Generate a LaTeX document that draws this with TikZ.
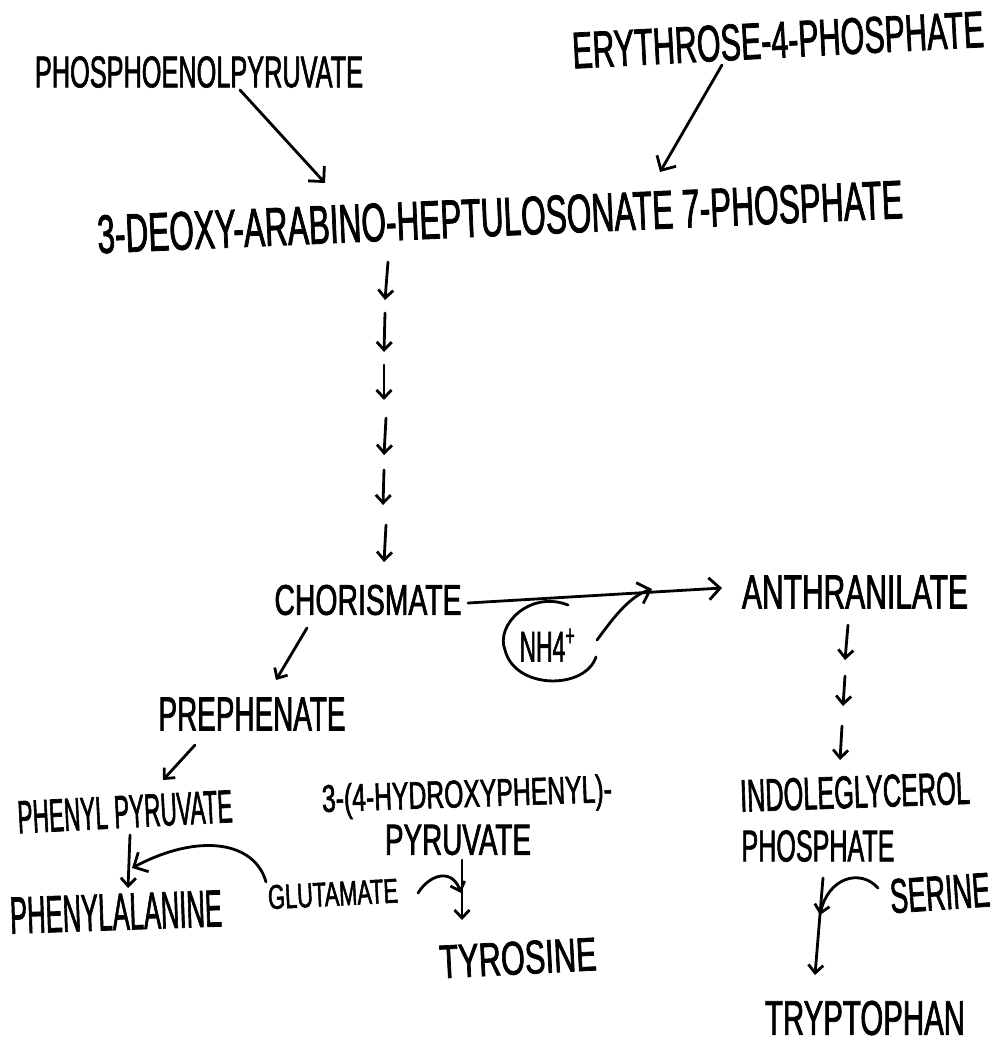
\documentclass[tikz,border=0pt]{standalone}
\usepackage{fontspec}
\setmainfont{Liberation Sans}[FakeStretch=0.65, FakeBold=1.5]
\usepackage{graphicx}
\usetikzlibrary{arrows.meta}
% lettering of a given width and cap height (in pt)
\newcommand\handtext[3]{\resizebox{#1pt}{#2pt}{#3}}
\begin{document}
\begin{tikzpicture}[x=1pt,y=-1pt,
  lettering/.style={inner sep=0pt, anchor=center},
  pen/.style={line width=2.8pt, line cap=round, line join=round},
  flow/.style={pen, -{Straight Barb[length=11pt,width=22pt]}},
  stepflow/.style={pen, -{Straight Barb[length=8pt,width=15pt]}}]

\fill[white] (0,0) rectangle (1002,1047);
\path[use as bounding box] (0,0) rectangle (1002,1047);

% compounds
\node[lettering] (pep) at (199,72) {\handtext{328}{31}{PHOSPHOENOLPYRUVATE}};
\node[lettering, rotate=3] (e4p) at (778,40) {\handtext{412}{36}{ERYTHROSE-4-PHOSPHATE}};
\node[lettering, rotate=2.5] (dahp) at (500,217) {\handtext{806}{38}{3-DEOXY-ARABINO-HEPTULOSONATE 7-PHOSPHATE}};
\node[lettering] (chor) at (368,600) {\handtext{187}{30}{CHORISMATE}};
\node[lettering] (anth) at (855,592) {\handtext{226}{33}{ANTHRANILATE}};
\node[lettering] (nh4) at (548,645) {\handtext{57}{33}{NH4\textsuperscript{+}}};
\node[lettering] (prep) at (252,714) {\handtext{187}{33}{PREPHENATE}};
\node[lettering, rotate=3] (phpy) at (125,812) {\handtext{215}{32}{PHENYL PYRUVATE}};
\node[lettering, rotate=2] (hpp1) at (467,797) {\handtext{290}{28}{3-(4-HYDROXYPHENYL)-}};
\node[lettering] (hpp2) at (458,840) {\handtext{146}{30}{PYRUVATE}};
\node[lettering, rotate=2] (pala) at (116,912) {\handtext{212}{36}{PHENYLALANINE}};
\node[lettering, rotate=3] (glu) at (333,894) {\handtext{130}{24}{GLUTAMATE}};
\node[lettering, rotate=3] (tyr) at (518,958) {\handtext{157}{33}{TYROSINE}};
\node[lettering, rotate=2] (igp1) at (855,792) {\handtext{230}{32}{INDOLEGLYCEROL}};
\node[lettering] (igp2) at (818,846) {\handtext{153}{31}{PHOSPHATE}};
\node[lettering, rotate=4] (ser) at (940,893) {\handtext{100}{34}{SERINE}};
\node[lettering] (trp) at (865,1018) {\handtext{200}{34}{TRYPTOPHAN}};

% the two precursors
\draw[flow] ([shift={(41,18)}]pep.center) -- ([shift={(-175,-34)}]dahp.center);
\draw[flow] ([shift={(-56,25)}]e4p.center) -- ([shift={(160,-45)}]dahp.center);

% six steps down to chorismate
\foreach \i/\xa/\ya/\xb/\yb in {1/388/262/385/300, 2/385/313/384/352, 3/384/365/384/400,
                                4/386/418/384/455, 5/384/470/383/505, 6/386/525/384/562} {
  \coordinate (d\i a) at (\xa,\ya);
  \coordinate (d\i b) at (\xb,\yb);
  \draw[stepflow] (d\i a) -- (d\i b);
}

% chorismate to anthranilate, with ammonium joining
\draw[flow] ([shift={(100,3)}]chor.center) -- ([shift={(-133,-4)}]anth.center);
\begin{scope}[shift={(nh4.center)}]
  \draw[pen] (20,-40) .. controls (-18,-55) and (-53,-20) .. (-43,5)
             .. controls (-33,45) and (37,45) .. (48,12);
  \coordinate (nhjoin) at (104,-56);
  \draw[flow] (49,-5) .. controls (64,-25) and (80,-48) .. (nhjoin);
\end{scope}

% tyrosine / phenylalanine branch
\draw[stepflow] ([shift={(-61,28)}]chor.center) -- ([shift={(24,-34)}]prep.center);
\draw[stepflow] ([shift={(-57,31)}]prep.center) -- ([shift={(38,-32)}]phpy.center);
\draw[stepflow] ([shift={(5,23)}]phpy.center) -- ([shift={(12,-24)}]pala.center);
\draw[flow] ([shift={(-67,-12)}]glu.center) .. controls (255,842) and (200,832) .. ([shift={(16,-44)}]pala.center);
\draw[stepflow] ([shift={(4,20)}]hpp2.center) -- ([shift={(-56,-38)}]tyr.center);
\draw[stepflow] ([shift={(85,-1)}]glu.center) .. controls (430,874) and (452,868) .. ([shift={(-57,-65)}]tyr.center);

% tryptophan branch
\foreach \i/\xa/\ya/\xb/\yb in {1/848/625/845/660, 2/845/676/843/706, 3/842/726/840/760} {
  \coordinate (a\i a) at (\xa,\ya);
  \coordinate (a\i b) at (\xb,\yb);
  \draw[stepflow] (a\i a) -- (a\i b);
}
\draw[stepflow] ([shift={(5,32)}]igp2.center) -- ([shift={(-50,-43)}]trp.center);
\draw[stepflow] ([shift={(-62,-5)}]ser.center) .. controls (860,868) and (828,878) .. ([shift={(-45,-103)}]trp.center);

\end{tikzpicture}
\end{document}
